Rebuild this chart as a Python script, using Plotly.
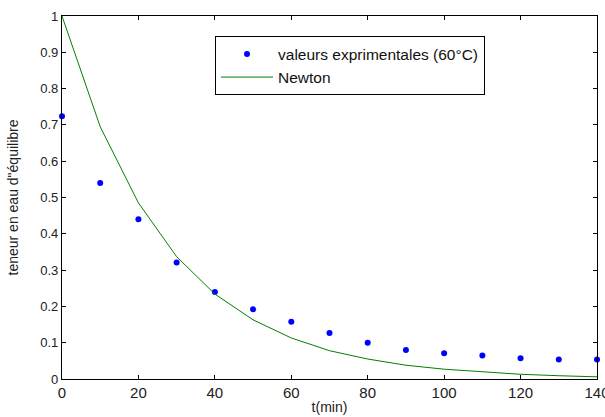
import plotly.graph_objects as go

t_exp = [0, 10, 20, 30, 40, 50, 60, 70, 80, 90, 100, 110, 120, 130, 140]
y_exp = [0.724, 0.54, 0.44, 0.321, 0.24, 0.192, 0.158, 0.127, 0.1, 0.08, 0.071, 0.065, 0.057, 0.054, 0.054]

t_newton = [0, 10, 20, 30, 40, 50, 60, 70, 80, 90, 100, 110, 120, 130, 140]
y_newton = [1.0, 0.695, 0.485, 0.337, 0.234, 0.163, 0.113, 0.078, 0.055, 0.038, 0.027, 0.019, 0.013, 0.009, 0.006]

x_ticks = [0, 20, 40, 60, 80, 100, 120, 140]
y_ticks = [0, 0.1, 0.2, 0.3, 0.4, 0.5, 0.6, 0.7, 0.8, 0.9, 1]

FONT = "Liberation Sans, Arial"

fig = go.Figure()
fig.add_trace(go.Scatter(x=t_exp, y=y_exp, mode="markers", name="valeurs exprimentales (60°C)",
                         marker=dict(color="#0000ff", size=6), cliponaxis=False))
fig.add_trace(go.Scatter(x=t_newton, y=y_newton, mode="lines", name="Newton",
                         line=dict(color="#008000", width=1)))

axis_common = dict(showgrid=False, zeroline=False, showline=True, linecolor="black", linewidth=1.3,
                   mirror="ticks", ticks="inside", ticklen=4, tickcolor="black",
                   ticklabeloverflow="allow", automargin=False)
fig.update_xaxes(range=[0, 140], tickvals=x_ticks, **axis_common,
                 tickfont=dict(family=FONT, size=15, color="#222"),
                 title=dict(text="t(min)", font=dict(family=FONT, size=14, color="#222"), standoff=2))
fig.update_yaxes(range=[0, 1], tickvals=y_ticks, **axis_common,
                 tickfont=dict(family=FONT, size=13, color="#222"),
                 title=dict(text="teneur en eau d\"équilibre", font=dict(family=FONT, size=14, color="#222"), standoff=18))

fig.update_layout(
    width=605, height=417,
    margin=dict(l=62, r=8, t=16, b=38),
    paper_bgcolor="white", plot_bgcolor="white",
    showlegend=True,
    legend=dict(x=0.286, y=0.944, xanchor="left", yanchor="top",
                bordercolor="black", borderwidth=1, bgcolor="white",
                font=dict(family=FONT, size=15.5, color="#111"),
                tracegroupgap=0, itemwidth=52),
    font=dict(family=FONT),
)

fig.write_html("out.html")
